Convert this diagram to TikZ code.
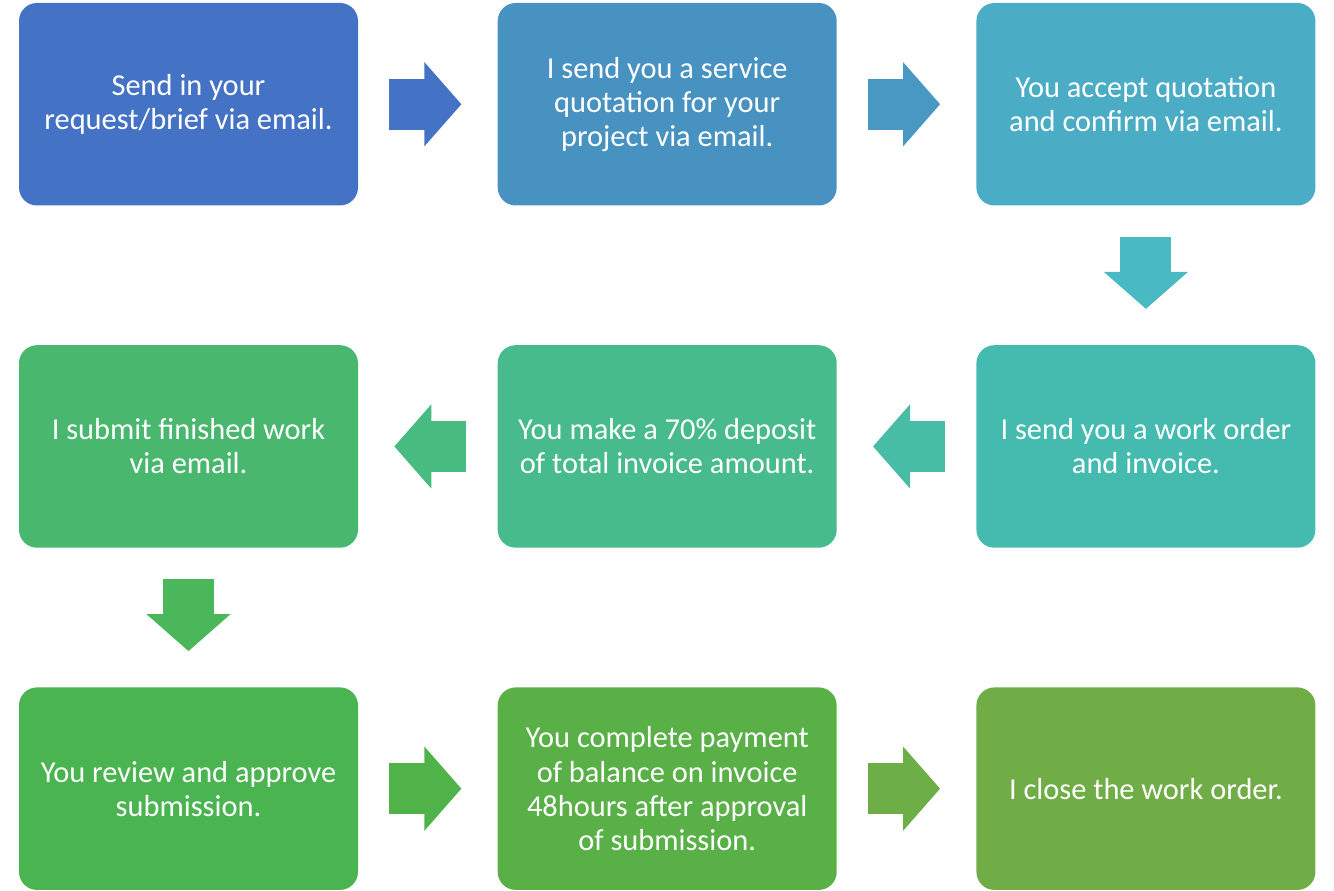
\documentclass[tikz,border=0pt]{standalone}
\usepackage{fontspec}
\setmainfont{Carlito}
\usepackage{tikz}
\usetikzlibrary{arrows.meta}
\usetikzlibrary{positioning}

% box colours
\definecolor{stepA}{HTML}{4472C4}
\definecolor{stepB}{HTML}{4892C2}
\definecolor{stepC}{HTML}{4BACC6}
\definecolor{stepD}{HTML}{45BBAF}
\definecolor{stepE}{HTML}{47BB8C}
\definecolor{stepF}{HTML}{49B86E}
\definecolor{stepG}{HTML}{4AB451}
\definecolor{stepH}{HTML}{58B047}
\definecolor{stepI}{HTML}{70AD47}
% arrow colours
\definecolor{arrA}{HTML}{4472C4}
\definecolor{arrB}{HTML}{4898C3}
\definecolor{arrC}{HTML}{49BAC4}
\definecolor{arrD}{HTML}{46BDA4}
\definecolor{arrE}{HTML}{47BB80}
\definecolor{arrF}{HTML}{4AB75B}
\definecolor{arrG}{HTML}{50B34A}
\definecolor{arrH}{HTML}{6EAE47}

\begin{document}
\begin{tikzpicture}[
    stepbox/.style={rectangle, rounded corners=0.36cm, minimum width=6.78cm,
      minimum height=4.05cm, inner sep=0pt, text=white, align=center,
      font=\fontsize{17.3}{19.4}\selectfont},
    blockarrow/.style={line width=1.02cm,
      -{Triangle[length=0.74cm,width=1.68cm,line width=1pt]},
      shorten <=0.62cm, shorten >=0.72cm}
  ]

      \useasboundingbox (0,0) rectangle (26.68,-17.82);

      % first row
      \node[stepbox, fill=stepA] (send) at (3.77,-2.085)
        {Send in your\\request/brief via email.};
      \node[stepbox, fill=stepB, right=2.78cm of send] (quote)
        {I send you a service\\quotation for your\\project via email.};
      \node[stepbox, fill=stepC, right=2.78cm of quote] (accept)
        {You accept quotation\\and confirm via email.};

      % second row
      \node[stepbox, fill=stepD, below=2.78cm of accept] (order)
        {I send you a work order\\and invoice.};
      \node[stepbox, fill=stepE, left=2.78cm of order] (deposit)
        {You make a 70\% deposit\\of total invoice amount.};
      \node[stepbox, fill=stepF, left=2.78cm of deposit] (submit)
        {I submit finished work\\via email.};

      % third row
      \node[stepbox, fill=stepG, below=2.78cm of submit] (review)
        {You review and approve\\submission.};
      \node[stepbox, fill=stepH, right=2.78cm of review] (balance)
        {You complete payment\\of balance on invoice\\48hours after approval\\of submission.};
      \node[stepbox, fill=stepI, right=2.78cm of balance] (close)
        {I close the work order.};

      % arrows
      \foreach \from/\to/\col in {
        send/quote/arrA, quote/accept/arrB, accept/order/arrC,
        order/deposit/arrD, deposit/submit/arrE, submit/review/arrF,
        review/balance/arrG, balance/close/arrH}
      \draw[blockarrow, \col] (\from) -- (\to);

\end{tikzpicture}
\end{document}
